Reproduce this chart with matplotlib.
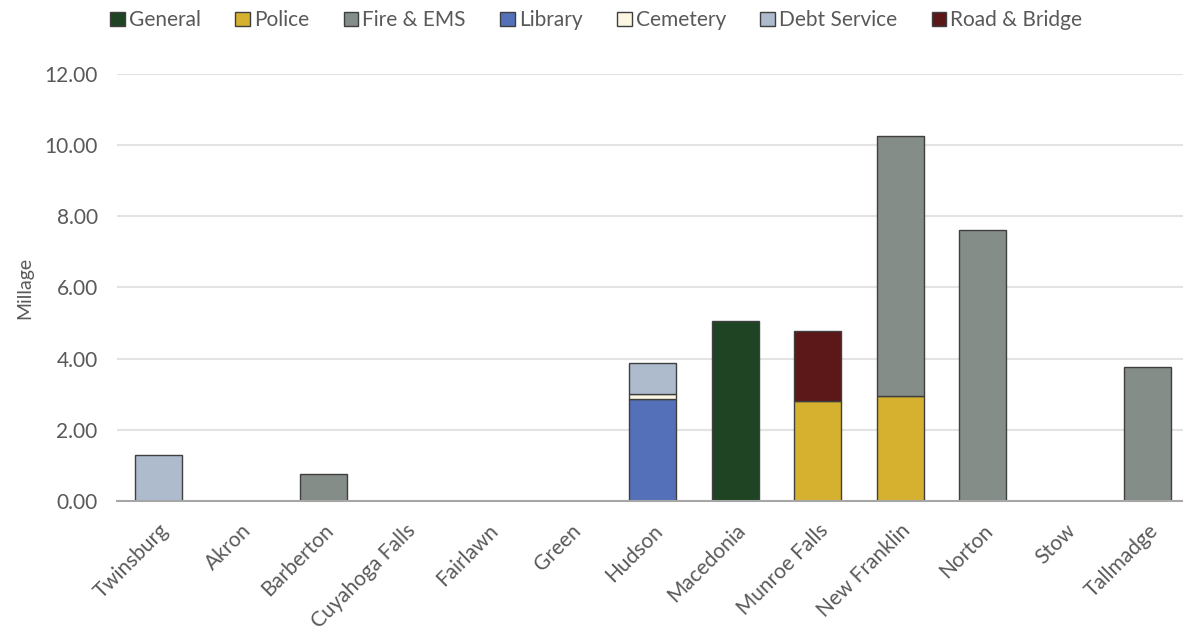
import numpy as np
import matplotlib.pyplot as plt

plt.rcParams['font.family'] = ['Lato', 'DejaVu Sans']

towns = ['Twinsburg', 'Akron', 'Barberton', 'Cuyahoga Falls', 'Fairlawn', 'Green',
         'Hudson', 'Macedonia', 'Munroe Falls', 'New Franklin', 'Norton', 'Stow', 'Tallmadge']

general = [0, 0, 0, 0, 0, 0, 0, 5.06, 0, 0, 0, 0, 0]
police = [0, 0, 0, 0, 0, 0, 0, 0, 2.81, 2.95, 0, 0, 0]
fire_ems = [0, 0, 0.77, 0, 0, 0, 0, 0, 0, 7.32, 7.61, 0, 3.76]
library = [0, 0, 0, 0, 0, 0, 2.88, 0, 0, 0, 0, 0, 0]
cemetery = [0, 0, 0, 0, 0, 0, 0.13, 0, 0, 0, 0, 0, 0]
debt_service = [1.30, 0, 0, 0, 0, 0, 0.86, 0, 0, 0, 0, 0, 0]
road_bridge = [0, 0, 0, 0, 0, 0, 0, 0, 1.96, 0, 0, 0, 0]

series = [('General', general, '#1f4423'),
          ('Police', police, '#d6b12f'),
          ('Fire & EMS', fire_ems, '#848d87'),
          ('Library', library, '#5470b8'),
          ('Cemetery', cemetery, '#fcf7e2'),
          ('Debt Service', debt_service, '#adbbcd'),
          ('Road & Bridge', road_bridge, '#5c1719')]

TEXT_COLOR = '#595959'

fig = plt.figure(figsize=(11.83, 6.35), dpi=100)
ax = fig.add_axes([0.099, 0.211, 0.901, 0.6725])

x = np.arange(len(towns))
bottom = np.zeros(len(towns))
for name, vals, col in series:
    vals = np.array(vals)
    nz = vals > 0  # skip empty segments so their edges don't draw
    ax.bar(x[nz], vals[nz], width=0.57, bottom=bottom[nz], color=col, edgecolor='#3f3f3f',
           linewidth=1.0, label=name, zorder=3)
    bottom += vals

ax.set_xlim(-0.5, 12.43)
ax.set_ylim(0, 12)
ax.set_yticks(np.arange(0, 12.1, 2))
ax.set_yticklabels(['%.2f' % v for v in np.arange(0, 12.1, 2)])
ax.set_xticks(x)
ax.set_xticklabels(towns, rotation=45, ha='right', rotation_mode='anchor')
ax.tick_params(axis='both', length=0, labelsize=15, colors=TEXT_COLOR)
ax.tick_params(axis='x', pad=14)
ax.tick_params(axis='y', pad=14)

ax.grid(axis='y', color='#e3e3e3', linewidth=1.5, zorder=0)
for side in ['left', 'right', 'top']:
    ax.spines[side].set_visible(False)
ax.spines['bottom'].set_color('#a6a6a6')
ax.spines['bottom'].set_linewidth(1.5)
ax.spines['bottom'].set_zorder(4)

ax.set_ylabel('Millage', fontsize=14, color=TEXT_COLOR, labelpad=8)

ax.legend(loc='upper left', bbox_to_anchor=(-0.024, 1.193), ncol=7, frameon=False,
          fontsize=15, labelcolor=TEXT_COLOR, handlelength=0.7, handleheight=0.7,
          handletextpad=0.2, columnspacing=1.65)

fig.savefig('out.png', dpi=100)
